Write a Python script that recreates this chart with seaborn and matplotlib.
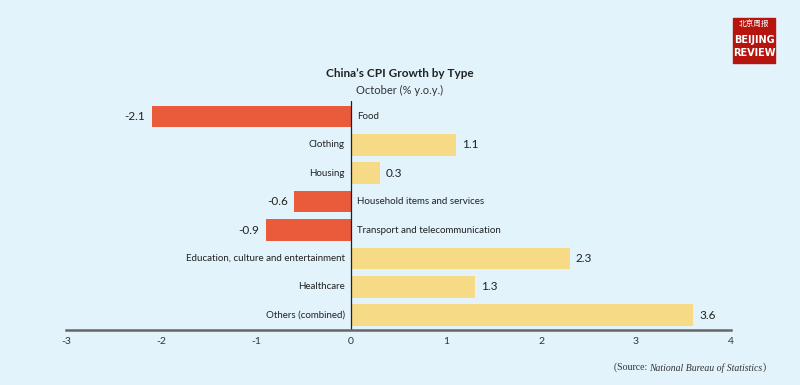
import seaborn as sns
import matplotlib.pyplot as plt
import matplotlib.patches as mpatches
import pandas as pd

# data
categories = ['Food', 'Clothing', 'Housing', 'Household items and services',
              'Transport and telecommunication', 'Education, culture and entertainment',
              'Healthcare', 'Others (combined)']
growth = [-2.1, 1.1, 0.3, -0.6, -0.9, 2.3, 1.3, 3.6]
xticks = [-3, -2, -1, 0, 1, 2, 3, 4]

bg = '#E2F3FB'
red = '#EA5B3B'
yellow = '#F7DA85'

df = pd.DataFrame({'cat': categories, 'val': growth})
df['sign'] = ['neg' if v < 0 else 'pos' for v in growth]

sns.set_theme(style='white')
plt.rcParams['font.family'] = ['Lato', 'DejaVu Sans']

fig = plt.figure(figsize=(8, 3.85), dpi=100, facecolor=bg)
ax = fig.add_axes([0.0825, 0.1429, 0.83125, 0.596])
ax.set_facecolor(bg)

sns.barplot(data=df, x='val', y='cat', hue='sign', palette={'neg': red, 'pos': yellow},
            dodge=False, legend=False, width=0.76, orient='h', ax=ax, saturation=1,
            linewidth=0)

ax.set_xlim(-3, 4)
ax.set_ylim(7.52, -0.56)
ax.set_xticks(xticks)
ax.set_xticklabels([str(t) for t in xticks], fontsize=7.5, color='#333333')
ax.tick_params(axis='x', length=0, pad=5)
ax.set_yticks([])
ax.set_xlabel('')
ax.set_ylabel('')
for s in ['top', 'right', 'left']:
    ax.spines[s].set_visible(False)
ax.spines['bottom'].set_color('#666666')
ax.spines['bottom'].set_linewidth(1.8)
ax.axvline(0, color='#222222', lw=0.9)

gap = 0.065
for i, (c, v) in enumerate(zip(categories, growth)):
    if v < 0:
        ax.text(gap, i, c, ha='left', va='center', fontsize=7, color='#222222')
        ax.text(v - gap, i, f'{v:.1f}', ha='right', va='center', fontsize=8.5, color='#222222')
    else:
        ax.text(-gap, i, c, ha='right', va='center', fontsize=7, color='#222222')
        ax.text(v + gap, i, f'{v:.1f}', ha='left', va='center', fontsize=8.5, color='#222222')

fig.text(0.5, 0.81, 'China\u2019s CPI Growth by Type', ha='center', va='center',
         fontsize=8.5, fontweight='bold', color='#222222')
fig.text(0.5, 0.765, 'October (% y.o.y.)', ha='center', va='center', fontsize=8, color='#333333')

# source line: regular + italic pieces
fig.canvas.draw()
r = fig.canvas.get_renderer()
t3 = fig.text(0.957, 0.045, ')', ha='right', va='center', fontsize=7,
              family='Liberation Serif', color='#333333')
fig.canvas.draw()
x3 = t3.get_window_extent(r).x0 / fig.bbox.width
t2 = fig.text(x3, 0.045, 'National Bureau of Statistics', ha='right', va='center', fontsize=7,
              family='Liberation Serif', style='italic', color='#333333')
fig.canvas.draw()
x2 = t2.get_window_extent(r).x0 / fig.bbox.width
fig.text(x2, 0.045, '(Source: ', ha='right', va='center', fontsize=7,
         family='Liberation Serif', color='#333333')

# logo
fig.patches.append(mpatches.Rectangle((733 / 800, 1 - 63 / 385), 42 / 800, 45 / 385,
                                      transform=fig.transFigure, color='#B5150E', zorder=5))
fig.text(754 / 800, 1 - 25 / 385, '北京周报', ha='center', va='center', fontsize=5.5,
         color='white', family=['Noto Sans CJK SC', 'DejaVu Sans'], zorder=6)
fig.text(754 / 800, 1 - 40 / 385, 'BEIJING', ha='center', va='center', fontsize=7,
         color='white', fontweight='bold', family='DejaVu Sans', zorder=6)
fig.text(754 / 800, 1 - 53 / 385, 'REVIEW', ha='center', va='center', fontsize=7,
         color='white', fontweight='bold', family='DejaVu Sans', zorder=6)

fig.savefig('out.png', dpi=100, facecolor=bg)
